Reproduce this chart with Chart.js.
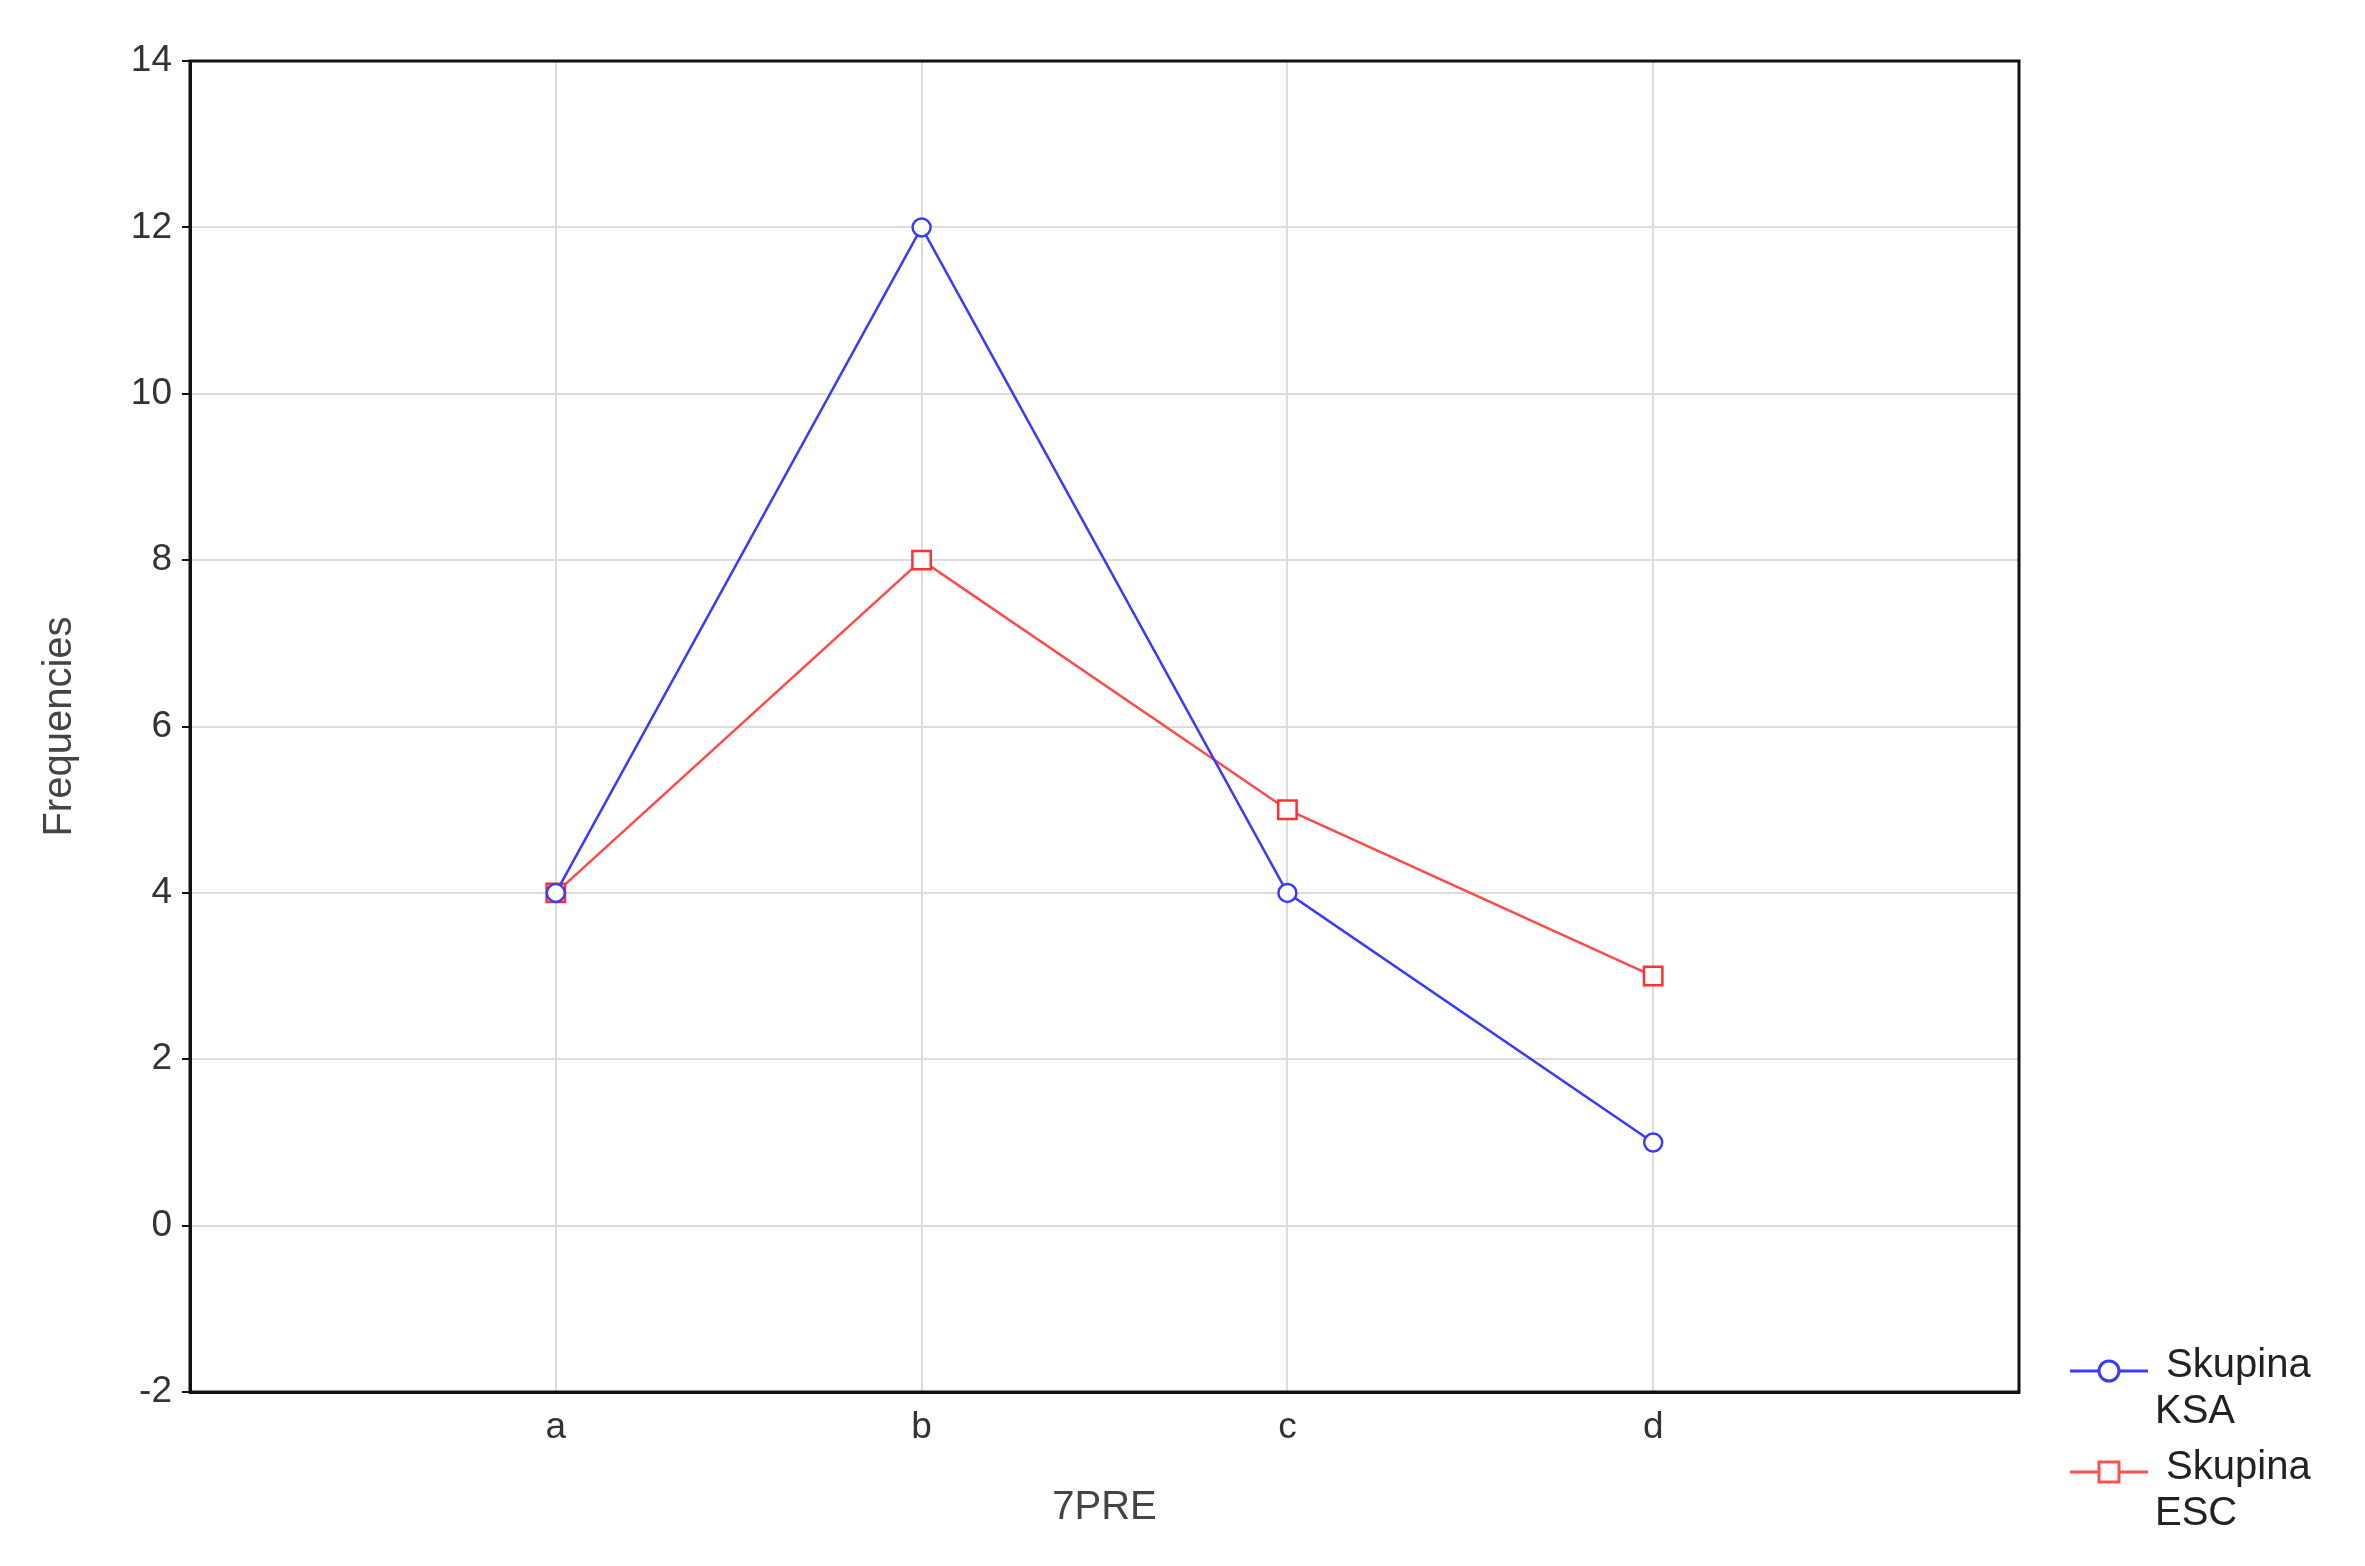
<!DOCTYPE html>
<html><head><meta charset="utf-8">
<script src="https://cdn.jsdelivr.net/npm/chart.js@4"></script>
<style>
html,body{margin:0;padding:0;background:#fff;}
#wrap{position:relative;width:2365px;height:1566px;}
.lg{position:absolute;font-family:Arial,"Liberation Sans",sans-serif;font-size:40px;color:#222;line-height:46px;}
</style></head><body>
<div id="wrap"><canvas id="c" width="2365" height="1566"></canvas>
<div class="lg" style="left:2155px;top:1340px;">&nbsp;Skupina<br>KSA</div>
<div class="lg" style="left:2155px;top:1442px;">&nbsp;Skupina<br>ESC</div>
<canvas id="lgc" width="120" height="200" style="position:absolute;left:2058px;top:1340px;"></canvas>
</div>
<script>
const categories = ['', 'a', 'b', 'c', 'd', ''];
const seriesNames = ['Skupina KSA', 'Skupina ESC'];
const ksaValues = [null, 4, 12, 4, 1, null];
const escValues = [null, 4, 8, 5, 3, null];
const yTicks = [-2, 0, 2, 4, 6, 8, 10, 12, 14];

Chart.defaults.font.family = 'Arial, "Liberation Sans", sans-serif';
Chart.defaults.color = '#222';
new Chart(document.getElementById('c'), {
  type: 'line',
  data: { labels: categories, datasets: [
    { label: seriesNames[0], data: ksaValues, borderColor: '#3a3aff', borderWidth: 2.5, pointStyle: 'circle', pointRadius: 9, pointBorderWidth: 2.5, pointBackgroundColor: '#fff', pointBorderColor: '#3a3aff', tension: 0 },
    { label: seriesNames[1], data: escValues, borderColor: '#ff4a4a', borderWidth: 2.5, pointStyle: 'rect', pointRadius: 13, pointBorderWidth: 2.5, pointBackgroundColor: '#fff', pointBorderColor: '#ff3030', tension: 0 }
  ]},
  options: {
    responsive: false, animation: false, devicePixelRatio: 1,
    layout: { padding: { top: 61, right: 346, left: 32, bottom: 30 } },
    plugins: { legend: { display: false }, tooltip: { enabled: false } },
    scales: {
      x: { type: 'category', offset: false,
        grid: { color: '#dcdcdc', lineWidth: 2, drawTicks: false },
        border: { color: '#111', width: 3 },
        ticks: { font: { size: 37 }, color: '#333', padding: 14, autoSkip: false, maxRotation: 0 },
        title: { display: true, text: '7PRE', font: { size: 40 }, color: '#444', padding: { top: 8 } },
        afterFit: s => { s.height = 144; } },
      y: { min: -2, max: 14,
        afterBuildTicks: s => { s.ticks = yTicks.map(v => ({ value: v })); },
        grid: { color: '#dcdcdc', lineWidth: 2, drawTicks: true, tickLength: 8, tickColor: '#111' },
        border: { color: '#111', width: 3 },
        ticks: { font: { size: 37 }, color: '#333', padding: 10 },
        title: { display: true, text: 'Frequencies', font: { size: 40 }, color: '#444', padding: { bottom: 10 } },
        afterFit: s => { s.width = 158; } }
    }
  },
  plugins: [{ id: 'frame', afterDraw(ch) {
    const a = ch.chartArea, g = ch.ctx;
    g.save(); g.strokeStyle = '#111'; g.lineWidth = 3;
    g.strokeRect(a.left, a.top, a.right - a.left, a.bottom - a.top); g.restore();
  }}]
});
const l = document.getElementById('lgc').getContext('2d');
l.lineWidth = 3;
l.strokeStyle = '#3a3aff'; l.beginPath(); l.moveTo(12, 31); l.lineTo(90, 31); l.stroke();
l.beginPath(); l.arc(51, 31, 10, 0, Math.PI * 2); l.fillStyle = '#fff'; l.fill(); l.stroke();
l.strokeStyle = '#ff5050'; l.beginPath(); l.moveTo(12, 132); l.lineTo(90, 132); l.stroke();
l.fillRect(41, 122, 20, 20); l.strokeRect(41, 122, 20, 20);
</script></body></html>
